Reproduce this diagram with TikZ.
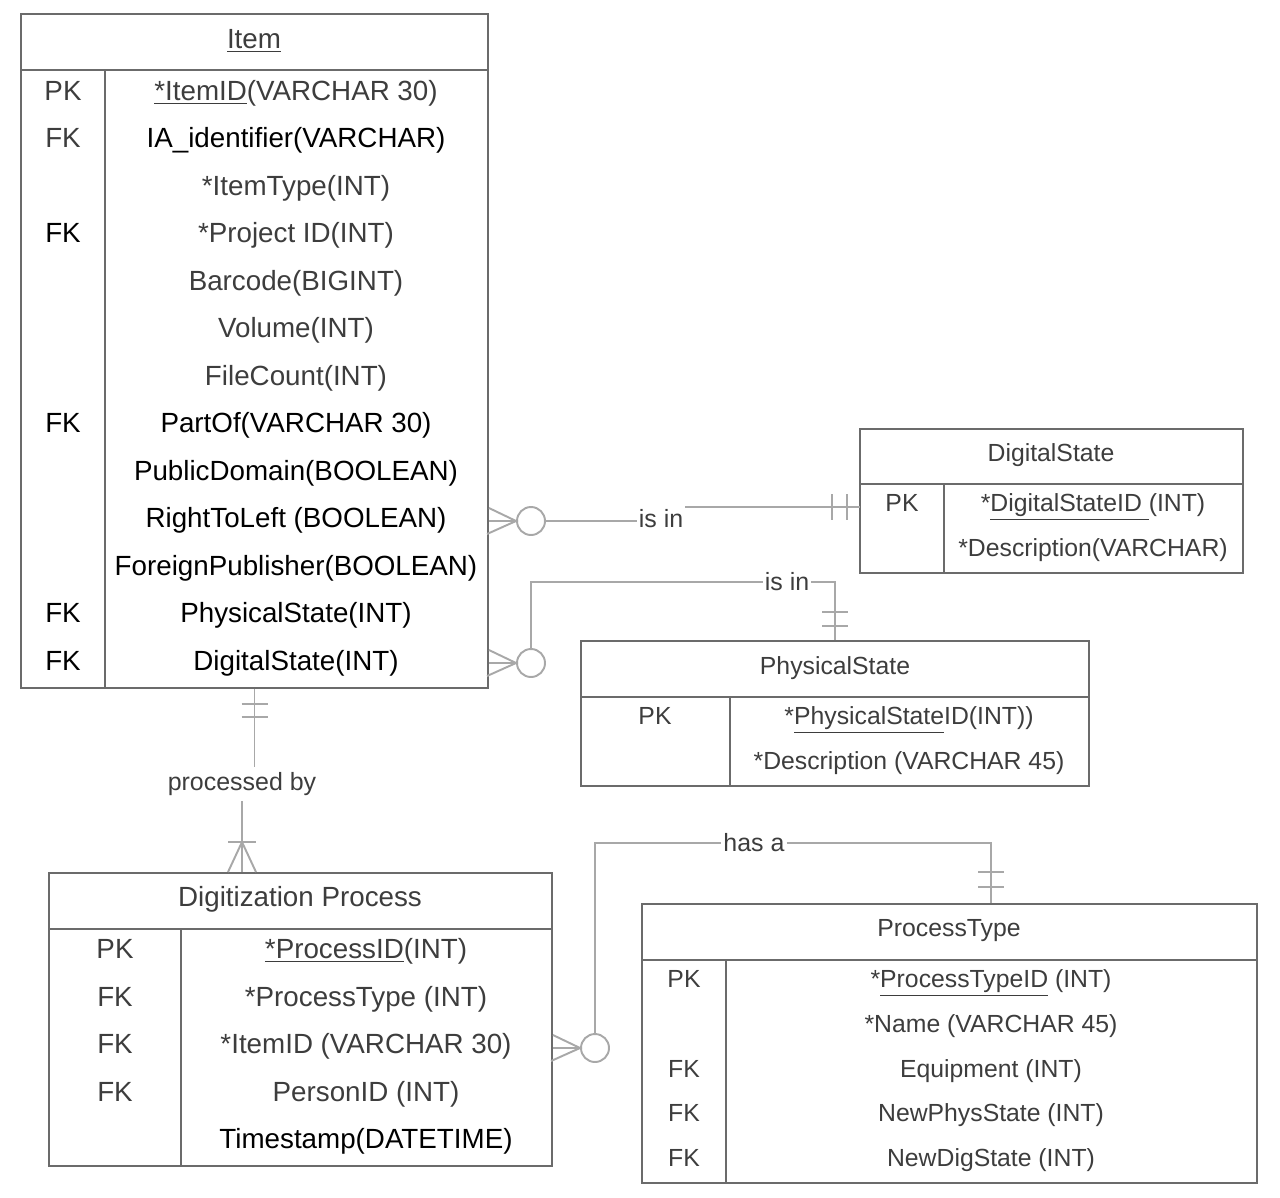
\documentclass[tikz,border=0pt]{standalone}
\usepackage{fontspec}
\setmainfont{Liberation Sans}
\usepackage{xcolor}
\definecolor{frame}{HTML}{6B6B6B}
\definecolor{link}{HTML}{A8A8A8}
\definecolor{ink}{HTML}{3D3D3D}
\usetikzlibrary{fit}

\begin{document}
\begin{tikzpicture}[x=0.02cm, y=-0.02cm,
    tbl/.style={draw=frame, line width=1.1pt, inner sep=0pt},
    rule/.style={draw=frame, line width=1.1pt},
    rel/.style={draw=link, line width=1.1pt},
    big/.style={font=\fontsize{15.8}{18}\selectfont, text=ink, text height=11.2pt, text depth=0pt, inner sep=0pt},
    small/.style={font=\fontsize{14.1}{17}\selectfont, text=ink, text height=10pt, text depth=0pt, inner sep=0pt},
    lbl/.style={font=\fontsize{14.2}{17}\selectfont, text=ink, fill=white, inner xsep=1pt, inner ysep=3pt},
    zero/.style={circle, draw=link, line width=1.1pt, fill=white, minimum size=0.56cm, inner sep=0pt}]
    \useasboundingbox (0,0) rectangle (1280,1197);

    % Item table
    \node[tbl, fit={(21,14) (488,688)}] (item) {};
    \draw[rule] (21,70) -- (488,70);
    \draw[rule] (105,70) -- (105,688);
    \node[big] (itemh) at (254,39) {\underline{Item}};
    \node[big] (itemk1) at (63,91) {PK};
    \node[big] (itemk2) at (63,138) {FK};
    \node[big, text=black] (itemk4) at (63,233) {FK};
    \node[big, text=black] (itemk8) at (63,423) {FK};
    \node[big, text=black] (itemk12) at (63,613) {FK};
    \node[big, text=black] (itemk13) at (63,661) {FK};
    \node[big] (itemr1) at (296,91) {\underline{*ItemID}(VARCHAR 30)};
    \node[big, text=black] (itemr2) at (296,138) {IA\_identifier(VARCHAR)};
    \node[big] (itemr3) at (296,186) {*ItemType(INT)};
    \node[big] (itemr4) at (296,233) {*Project ID(INT)};
    \node[big] (itemr5) at (296,281) {Barcode(BIGINT)};
    \node[big] (itemr6) at (296,328) {Volume(INT)};
    \node[big] (itemr7) at (296,376) {FileCount(INT)};
    \node[big, text=black] (itemr8) at (296,423) {PartOf(VARCHAR 30)};
    \node[big, text=black] (itemr9) at (296,471) {PublicDomain(BOOLEAN)};
    \node[big, text=black] (itemr10) at (296,518) {RightToLeft (BOOLEAN)};
    \node[big, text=black] (itemr11) at (296,566) {ForeignPublisher(BOOLEAN)};
    \node[big, text=black] (itemr12) at (296,613) {PhysicalState(INT)};
    \node[big, text=black] (itemr13) at (296,661) {DigitalState(INT)};

    % DigitalState table
    \node[tbl, fit={(860,429) (1243,573)}] (ds) {};
    \draw[rule] (860,484) -- (1243,484);
    \draw[rule] (944,484) -- (944,573);
    \node[small] (dsh) at (1051,453) {DigitalState};
    \node[small] (dsk1) at (902,503) {PK};
    \node[small] (dsr1) at (1093,503) {*\underline{DigitalStateID }(INT)};
    \node[small] (dsr2) at (1093,548) {*Description(VARCHAR)};

    % PhysicalState table
    \node[tbl, fit={(581,641) (1089,786)}] (ps) {};
    \draw[rule] (581,697) -- (1089,697);
    \draw[rule] (730,697) -- (730,786);
    \node[small] (psh) at (835,666) {PhysicalState};
    \node[small] (psk1) at (655,716) {PK};
    \node[small] (psr1) at (909,716) {*\underline{PhysicalState}ID(INT))};
    \node[small] (psr2) at (909,761) {*Description (VARCHAR 45)};

    % Digitization Process table
    \node[tbl, fit={(49,873) (552,1166)}] (dp) {};
    \draw[rule] (49,929) -- (552,929);
    \draw[rule] (181,929) -- (181,1166);
    \node[big] (dph) at (300,897) {Digitization Process};
    \node[big] (dpk1) at (115,949) {PK};
    \node[big] (dpk2) at (115,997) {FK};
    \node[big] (dpk3) at (115,1044) {FK};
    \node[big] (dpk4) at (115,1092) {FK};
    \node[big] (dpr1) at (366,949) {\underline{*ProcessID}(INT)};
    \node[big] (dpr2) at (366,997) {*ProcessType (INT)};
    \node[big] (dpr3) at (366,1044) {*ItemID (VARCHAR 30)};
    \node[big] (dpr4) at (366,1092) {PersonID (INT)};
    \node[big, text=black] (dpr5) at (366,1139) {Timestamp(DATETIME)};

    % ProcessType table
    \node[tbl, fit={(642,904) (1257,1183)}] (pt) {};
    \draw[rule] (642,960) -- (1257,960);
    \draw[rule] (726,960) -- (726,1183);
    \node[small] (pth) at (949,928) {ProcessType};
    \node[small] (ptk1) at (684,979) {PK};
    \node[small] (ptk3) at (684,1069) {FK};
    \node[small] (ptk4) at (684,1113) {FK};
    \node[small] (ptk5) at (684,1158) {FK};
    \node[small] (ptr1) at (991,979) {*\underline{ProcessTypeID} (INT)};
    \node[small] (ptr2) at (991,1024) {*Name (VARCHAR 45)};
    \node[small] (ptr3) at (991,1069) {Equipment (INT)};
    \node[small] (ptr4) at (991,1113) {NewPhysState (INT)};
    \node[small] (ptr5) at (991,1158) {NewDigState (INT)};

    % Item -- DigitalState
    \coordinate (ds-in) at (860,507);
    \node[zero] (c1) at (531,521) {};
    \node[lbl] (isin1) at (661,519) {is in};
    \draw[rel] (item.east |- c1) -- (c1.west);
    \draw[rel] (item.east |- c1) ++(0,-13) -- (c1.west) -- ++(-29,13);
    \draw[rel] (c1.east) -- (isin1.west |- c1);
    \draw[rel] (isin1.east |- ds-in) -- (ds-in);
    \draw[rel] (ds-in) ++(-13,-13) -- ++(0,26) ++(-15,-26) -- ++(0,26);

    % Item -- PhysicalState
    \node[zero] (c2) at (531,663) {};
    \node[lbl] (isin2) at (787,582) {is in};
    \draw[rel] (item.east |- c2) -- (c2.west);
    \draw[rel] (item.east |- c2) ++(0,-13) -- (c2.west) -- ++(-29,13);
    \draw[rel] (c2.north) |- (isin2.west);
    \draw[rel] (isin2.east) -| (ps.north);
    \draw[rel] (ps.north) ++(-13,-14) -- ++(26,0) ++(-26,-14) -- ++(26,0);

    % Item -- Digitization Process
    \node[lbl] (pby) at (242,784) {processed by};
    \draw[rel] (item.south) -- (item.south |- pby.north);
    \draw[rel] (item.south) ++(-13,15) -- ++(26,0) ++(-26,13) -- ++(26,0);
    \draw[rel] (pby.south) -- (pby.south |- dp.north);
    \draw[rel] (pby.south |- dp.north) ++(-14,0) -- ++(14,-30) -- ++(14,30);
    \draw[rel] (pby.south |- dp.north) ++(-14,-30) -- ++(28,0);

    % Digitization Process -- ProcessType
    \node[zero] (c4) at (595,1048) {};
    \node[lbl] (hasa) at (754,843) {has a};
    \draw[rel] (dp.east |- c4) -- (c4.west);
    \draw[rel] (dp.east |- c4) ++(0,-13) -- (c4.west) -- ++(-29,13);
    \draw[rel] (c4.north) |- (hasa.west);
    \draw[rel] (hasa.east) -| (pt.north -| ptr1);
    \draw[rel] (pt.north -| ptr1) ++(-13,-16) -- ++(26,0) ++(-26,-15) -- ++(26,0);
\end{tikzpicture}
\end{document}
